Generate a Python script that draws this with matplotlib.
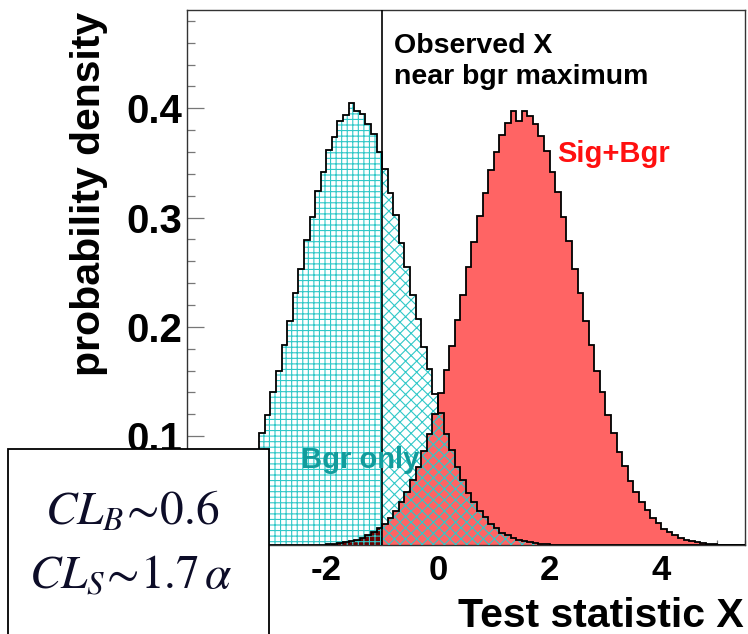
import numpy as np
import matplotlib
matplotlib.use("Agg")
import matplotlib.pyplot as plt
from matplotlib.patches import Rectangle
from matplotlib.ticker import FixedLocator, MultipleLocator

# ---------------- data ----------------
bin_edges = np.round(np.linspace(-4.5, 5.5, 101), 3)   # 100 bins of width 0.1

bgr_only = ([0.0050, 0.0071, 0.0089, 0.0122, 0.0151, 0.0201, 0.0249, 0.0321, 0.0392, 0.0493,
             0.0590, 0.0728, 0.0856, 0.1031, 0.1192, 0.1402, 0.1597, 0.1833, 0.2050, 0.2311,
             0.2532, 0.2792, 0.3002, 0.3241, 0.3418, 0.3617, 0.3741, 0.3880, 0.3935, 0.4050]
            + [0.3975, 0.3952, 0.3858, 0.3763, 0.3596, 0.3440, 0.3221, 0.3020, 0.2771, 0.2552,
               0.2290, 0.2068, 0.1817, 0.1611, 0.1387, 0.1207, 0.1016, 0.0870, 0.0715, 0.0601,
               0.0483, 0.0399, 0.0313, 0.0255, 0.0195, 0.0157, 0.0117, 0.0093, 0.0067, 0.0052,
               0.0039, 0.0027, 0.0021, 0.0014, 0.0010, 0.0007, 0.0005, 0.0003, 0.0002, 0.0001]
            + [0.0] * 30)

sig_bgr = ([0.0] * 20
           + [0.0001, 0.0002, 0.0003, 0.0005, 0.0007, 0.0010, 0.0015, 0.0020, 0.0028, 0.0038,
              0.0051, 0.0068, 0.0092, 0.0118, 0.0156, 0.0196, 0.0254, 0.0315, 0.0398, 0.0485,
              0.0599, 0.0718, 0.0866, 0.1020, 0.1204, 0.1390, 0.1608, 0.1821, 0.2064, 0.2295,
              0.2545, 0.2776, 0.3015, 0.3226, 0.3433, 0.3600, 0.3756, 0.3862, 0.3972, 0.3885]
           + [0.3975, 0.3930, 0.3861, 0.3748, 0.3612, 0.3421, 0.3238, 0.3005, 0.2788, 0.2533,
              0.2305, 0.2051, 0.1831, 0.1598, 0.1399, 0.1195, 0.1028, 0.0858, 0.0725, 0.0592,
              0.0491, 0.0393, 0.0319, 0.0249, 0.0200, 0.0153, 0.0120, 0.0090, 0.0070, 0.0050,
              0.0039, 0.0027, 0.0021, 0.0014, 0.0010, 0.0007, 0.0005, 0.0003, 0.0002, 0.0001])

x_observed = -1.0
x_ticks = [-4, -2, 0, 2, 4]
x_tick_labels = ["", "-2", "0", "2", "4"]     # "-4" lies under the CL box
y_ticks = [0.1, 0.2, 0.3, 0.4]
y_tick_labels = ["0.1", "0.2", "0.3", "0.4"]
cl_lines = [r"$CL_B\!\sim\!0.6$", r"$CL_S\!\sim\!1.7\,\alpha$"]

# ---------------- style ----------------
plt.rcParams["font.family"] = ["Liberation Sans", "DejaVu Sans"]
plt.rcParams["mathtext.fontset"] = "stix"
plt.rcParams["hatch.linewidth"] = 0.8

CYAN = "#30c8c8"
RED = "#ff6464"
DARKRED = "#6a0000"

bgr = np.array(bgr_only)
sig = np.array(sig_bgr)
k = int(np.searchsorted(bin_edges, x_observed))

fig = plt.figure(figsize=(7.48, 6.34), dpi=100)
W, H = 748.0, 634.0
ax = fig.add_axes([186.7 / W, (H - 545.3) / H, (745 - 186.7) / W, (545.3 - 10) / H])
ax.set_axisbelow(True)

# left of observed value: grid hatched bgr, dark red sig+bgr
ax.stairs(bgr[:k], bin_edges[:k + 1], fill=True, facecolor="white", edgecolor="none",
          linewidth=0, zorder=1)
ax.stairs(sig[:k], bin_edges[:k + 1], fill=True, facecolor=DARKRED, edgecolor="none",
          linewidth=0, zorder=2)
ax.stairs(bgr[:k], bin_edges[:k + 1], fill=True, facecolor="none", edgecolor=CYAN,
          hatch="+++", linewidth=0, zorder=3)
# right of observed value: red sig+bgr, cross-hatched bgr
ax.stairs(sig[k:], bin_edges[k:], fill=True, facecolor=RED, edgecolor="none",
          linewidth=0, zorder=2)
ax.stairs(bgr[k:], bin_edges[k:], fill=True, facecolor="none", edgecolor=CYAN,
          hatch="xxx", linewidth=0, zorder=3)
# outlines
ax.stairs(sig, bin_edges, color="black", linewidth=1.3, zorder=4)
ax.stairs(bgr, bin_edges, color="black", linewidth=1.3, zorder=4)

ax.axvline(x_observed, color="black", linewidth=1.2, zorder=5)

ax.set_xlim(-4.5, 5.5)
ax.set_ylim(0, 0.49)

ax.xaxis.set_major_locator(FixedLocator(x_ticks))
ax.set_xticklabels(x_tick_labels, fontsize=25, fontweight="bold")
ax.xaxis.set_minor_locator(MultipleLocator(0.5))
ax.yaxis.set_major_locator(FixedLocator(y_ticks))
ax.set_yticklabels(y_tick_labels, fontsize=29, fontweight="bold")
ax.yaxis.set_minor_locator(MultipleLocator(0.02))

ax.tick_params(axis="both", which="both", direction="in", top=False, right=False,
               color="#777777", width=0.9)
ax.tick_params(axis="x", which="major", length=9.5, pad=6)
ax.tick_params(axis="x", which="minor", length=3.5)
ax.tick_params(axis="y", which="major", length=12, pad=3)
ax.tick_params(axis="y", which="minor", length=6)
for s in ax.spines.values():
    s.set_linewidth(1.0)
    s.set_color("#333333")

# texts in the plot
ax.text(-0.79, 0.451, "Observed X", fontsize=20.5, fontweight="bold", va="baseline", zorder=6)
ax.text(-0.79, 0.4226, "near bgr maximum", fontsize=20.5, fontweight="bold", va="baseline", zorder=6)
ax.text(2.13, 0.351, "Sig+Bgr", fontsize=21, fontweight="bold", color="#ff1010",
        va="baseline", zorder=6)
ax.text(-2.45, 0.0708, "Bgr only", fontsize=21, fontweight="bold", color="#129c9c",
        va="baseline", zorder=6)

# axis titles
fig.text(744 / W, 7 / H, "Test statistic X", fontsize=29.5, fontweight="bold",
         ha="right", va="baseline")
fig.text(89 / W, 1 - 194 / H, "probability density", fontsize=29.5, fontweight="bold",
         rotation=90, ha="center", va="center")

# CL box in lower left
box = Rectangle((8 / W, -0.02), (269 - 8) / W, (H - 449) / H + 0.02,
                transform=fig.transFigure, facecolor="white", edgecolor="black",
                linewidth=1.3, zorder=10)
fig.add_artist(box)
fig.text(132 / W, (H - 525) / H, cl_lines[0], fontsize=34, color="#0d0d28",
         ha="center", va="baseline", zorder=11)
fig.text(131 / W, (H - 588) / H, cl_lines[1], fontsize=34, color="#0d0d28",
         ha="center", va="baseline", zorder=11)

fig.savefig("out.png", dpi=100)
